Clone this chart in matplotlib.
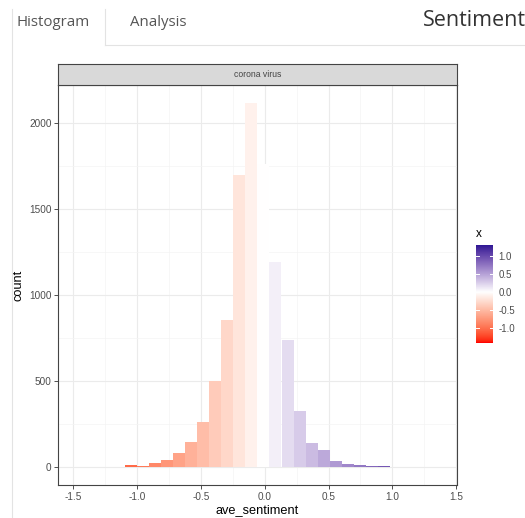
import numpy as np
import matplotlib
matplotlib.use('Agg')
import matplotlib.pyplot as plt
from matplotlib.colors import ListedColormap, Normalize, to_rgb
from matplotlib.lines import Line2D

plt.rcParams['axes.unicode_minus'] = False

# Histogram of ave_sentiment (30 bins)
bin_centers = [-1.428, -1.333, -1.239, -1.144, -1.050, -0.955, -0.861, -0.766,
               -0.672, -0.577, -0.483, -0.388, -0.294, -0.199, -0.105, -0.010,
               0.084, 0.179, 0.273, 0.368, 0.462, 0.557, 0.651, 0.746,
               0.840, 0.935, 1.029, 1.124, 1.218, 1.313]
counts = [1, 0, 0, 1, 12, 5, 23, 39, 78, 146, 258, 502, 855, 1700, 2115,
          1760, 1192, 740, 326, 138, 95, 31, 17, 10, 6, 2, 1, 0, 0, 1]
BIN_WIDTH = 0.0945

x_ticks = [-1.5, -1.0, -0.5, 0.0, 0.5, 1.0, 1.5]
y_ticks = [0, 500, 1000, 1500, 2000]
legend_ticks = [-1.0, -0.5, 0.0, 0.5, 1.0]

FACET = 'corona virus'
TABS = ['Histogram', 'Analysis']
PAGE_TITLE = 'Sentiment'

W, H = 525, 518


def px(x, y):
    """pixel coords (top-left origin) -> figure fraction"""
    return x / W, 1 - y / H


# ---- ggplot style gradient2 (Lab interpolation) ----
WHITE_REF = np.array([0.95047, 1.0, 1.08883])
M = np.array([[0.4124, 0.3576, 0.1805],
              [0.2126, 0.7152, 0.0722],
              [0.0193, 0.1192, 0.9505]])


def to_lab(c):
    rgb = np.array(to_rgb(c))
    lin = np.where(rgb <= 0.04045, rgb / 12.92, ((rgb + 0.055) / 1.055) ** 2.4)
    xyz = M @ lin / WHITE_REF
    d = 6 / 29
    f = np.where(xyz > d ** 3, np.cbrt(xyz), xyz / (3 * d ** 2) + 4 / 29)
    return np.array([116 * f[1] - 16, 500 * (f[0] - f[1]), 200 * (f[1] - f[2])])


def from_lab(lab):
    L, a, b = lab
    fy = (L + 16) / 116
    f = np.array([fy + a / 500, fy, fy - b / 200])
    d = 6 / 29
    xyz = np.where(f > d, f ** 3, 3 * d ** 2 * (f - 4 / 29)) * WHITE_REF
    lin = np.linalg.solve(M, xyz)
    lin = np.clip(lin, 0, 1)
    rgb = np.where(lin <= 0.0031308, 12.92 * lin, 1.055 * lin ** (1 / 2.4) - 0.055)
    return np.clip(rgb, 0, 1)


low, mid, high = to_lab('red'), to_lab('white'), to_lab('darkblue')
cols = []
for t in np.linspace(0, 1, 256):
    if t < 0.5:
        lab = low + (mid - low) * (t / 0.5)
    else:
        lab = mid + (high - mid) * ((t - 0.5) / 0.5)
    cols.append(from_lab(lab))
cmap = ListedColormap(cols)
max_abs = max(abs(min(bin_centers)), abs(max(bin_centers)))
norm = Normalize(vmin=-max_abs, vmax=max_abs)

fig = plt.figure(figsize=(W / 100, H / 100), dpi=100)
fig.patch.set_facecolor('white')

# ---- page chrome (tabs + title) ----
line_col = '#E3E3E3'
fig.add_artist(Line2D([px(11.7, 0)[0]] * 2, [px(0, 9)[1], 0], color=line_col, lw=0.8))
fig.add_artist(Line2D([px(105, 0)[0]] * 2, [px(0, 9)[1], px(0, 45)[1]], color=line_col, lw=0.8))
fig.add_artist(Line2D([px(105, 0)[0], 1], [px(0, 45)[1]] * 2, color=line_col, lw=0.8))
fig.text(*px(17, 23), TABS[0], fontsize=10.8, color='#555555', family='Open Sans', va='center')
fig.text(*px(130, 23), TABS[1], fontsize=10.8, color='#555555', family='Open Sans', va='center')
fig.text(*px(423, 21), PAGE_TITLE, fontsize=15.5, color='#333333', family='Open Sans', va='center')

# ---- main panel ----
left, right, top, bottom = 58.3, 456.5, 85, 485
x0, y0 = px(left, bottom)
ax = fig.add_axes([x0, y0, (right - left) / W, (bottom - top) / H])

bar_colors = cmap(norm(np.array(bin_centers)))
ax.bar(bin_centers, counts, width=BIN_WIDTH, color=bar_colors, linewidth=0, zorder=2)

lo = bin_centers[0] - BIN_WIDTH / 2
hi = bin_centers[-1] + BIN_WIDTH / 2
pad = 0.05 * (hi - lo)
ax.set_xlim(lo - pad, hi + pad)
ymax = max(counts)
ax.set_ylim(-0.05 * ymax, 1.05 * ymax)

ax.set_xticks(x_ticks)
ax.set_xticklabels([f'{v:.1f}' for v in x_ticks])
ax.set_yticks(y_ticks)
ax.set_xticks([-1.25, -0.75, -0.25, 0.25, 0.75, 1.25], minor=True)
ax.set_yticks([250, 750, 1250, 1750], minor=True)
ax.grid(True, which='major', color='#EBEBEB', lw=0.8, zorder=0)
ax.grid(True, which='minor', color='#F4F4F4', lw=0.5, zorder=0)
ax.set_axisbelow(True)
ax.tick_params(which='major', length=2.8, width=0.6, color='#333333',
               labelsize=7.2, labelcolor='#4D4D4D', pad=2)
ax.tick_params(which='minor', length=0)
for s in ax.spines.values():
    s.set_color('#444444')
    s.set_linewidth(0.8)
ax.set_xlabel('ave_sentiment', fontsize=9.2, family='Liberation Sans', labelpad=1.5)
ax.set_ylabel('count', fontsize=9.2, family='Liberation Sans', labelpad=3)
for lab in ax.get_xticklabels() + ax.get_yticklabels():
    lab.set_family('Liberation Sans')

# ---- facet strip ----
sx, sy = px(left, top)
strip = fig.add_axes([sx, sy, (right - left) / W, 21 / H])
strip.set_facecolor('#D9D9D9')
strip.set_xticks([])
strip.set_yticks([])
for s in strip.spines.values():
    s.set_color('#444444')
    s.set_linewidth(0.8)
strip.text(0.5, 0.5, FACET, ha='center', va='center', fontsize=6.2,
           color='#444444', family='Liberation Sans')

# ---- colour bar legend ----
cx, cy = px(476, 343)
cax = fig.add_axes([cx, cy, 17 / W, (343 - 245) / H])
grad = np.linspace(bin_centers[0], bin_centers[-1], 300).reshape(-1, 1)
cax.imshow(grad, cmap=cmap, norm=norm, aspect='auto', origin='lower',
           extent=[0, 1, bin_centers[0], bin_centers[-1]])
cax.set_xlim(0, 1)
cax.set_ylim(bin_centers[0], bin_centers[-1])
for v in legend_ticks:
    cax.plot([0, 0.2], [v, v], color='white', lw=0.7)
    cax.plot([0.8, 1], [v, v], color='white', lw=0.7)
cax.set_xticks([])
cax.yaxis.tick_right()
cax.set_yticks(legend_ticks)
cax.set_yticklabels([f'{v:.1f}' for v in legend_ticks])
cax.tick_params(length=0, labelsize=7, labelcolor='#4D4D4D', pad=4)
for lab in cax.get_yticklabels():
    lab.set_family('Liberation Sans')
for s in cax.spines.values():
    s.set_visible(False)
fig.text(*px(476, 234), 'x', fontsize=8.5, family='Liberation Sans', va='center')

fig.savefig('out.png', dpi=100, facecolor='white')
